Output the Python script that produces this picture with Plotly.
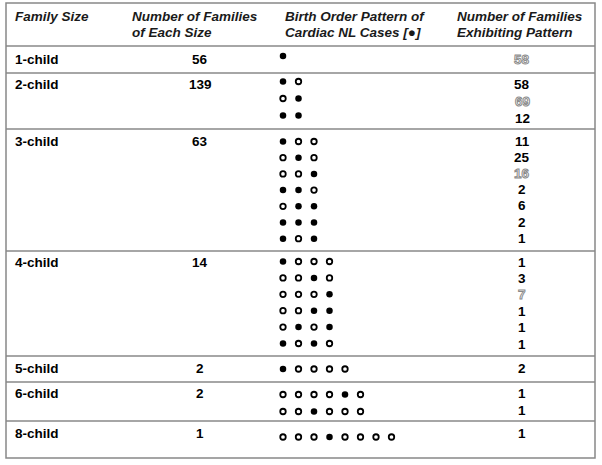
import plotly.graph_objects as go

# ---------------- data ----------------
family_sizes = ["1-child", "2-child", "3-child", "4-child", "5-child", "6-child", "8-child"]
families_per_size = [56, 139, 63, 14, 2, 2, 1]
# birth order patterns: 1 = cardiac NL case (filled), 0 = unaffected (open)
patterns = [
    ["1"],
    ["10", "01", "11"],
    ["100", "010", "001", "110", "011", "111", "101"],
    ["1000", "0010", "0001", "0011", "0101", "1010"],
    ["10000"],
    ["000010", "001000"],
    ["00010000"],
]
pattern_counts = [
    [58],
    [58, 69, 12],
    [11, 25, 16, 2, 6, 2, 1],
    [1, 3, 7, 1, 1, 1],
    [2],
    [1, 1],
    [1],
]
# last-born-only pattern (shown as outlined grey numbers)
last_born_only = [
    [True],
    [False, True, False],
    [False, False, True, False, False, False, False],
    [False, False, True, False, False, False],
    [False],
    [False, False],
    [False],
]
headers = [
    ["Family Size"],
    ["Number of Families", "of Each Size"],
    ["Birth Order Pattern of", "Cardiac NL Cases [\u25cf]"],
    ["Number of Families", "Exhibiting Pattern"],
]

# ---------------- layout (pixel positions) ----------------
W, H = 602, 465
FONT = "Liberation Sans, Arial, sans-serif"
FS = 13.5
row_lines = [46, 73, 129, 251, 356, 382, 421]
left, right, top, bottom = 6, 595, 3, 458
row_first_y = [59, 84, 141, 262, 368, 393, 433]
line_pitch = [16, 17, 16.2, 16.4, 16, 17, 16]
dot_offset = [-3, -2.5, 0.5, -0.5, 1, 1.5, 4]
header_x = [13, 130, 283, 455]
header_y = [16, 32.5]
col2_x = 200
col4_x = 522
dot_x0, dot_dx = 283, 15.5

fig = go.Figure()

# dots
fx, fy, ox, oy = [], [], [], []
for r, plist in enumerate(patterns):
    for i, p in enumerate(plist):
        y = row_first_y[r] + i * line_pitch[r] + dot_offset[r]
        for k, ch in enumerate(p):
            x = dot_x0 + k * dot_dx
            if ch == "1":
                fx.append(x); fy.append(y)
            else:
                ox.append(x); oy.append(y)

fig.add_trace(go.Scatter(x=fx, y=fy, mode="markers", hoverinfo="skip",
                         marker=dict(symbol="circle", size=6.5, color="black")))
fig.add_trace(go.Scatter(x=ox, y=oy, mode="markers", hoverinfo="skip",
                         marker=dict(symbol="circle-open", size=5.5, color="black",
                                     line=dict(width=1.8, color="black"))))

ann = []
# headers
for c, lines in enumerate(headers):
    for j, t in enumerate(lines):
        ann.append(dict(x=header_x[c], y=header_y[j], text="<b><i>%s</i></b>" % t,
                        xanchor="left", yanchor="middle", showarrow=False,
                        font=dict(family=FONT, size=FS, color="#1a1a1a")))

# rows
for r, name in enumerate(family_sizes):
    y0 = row_first_y[r]
    ann.append(dict(x=13, y=y0, text="<b>%s</b>" % name, xanchor="left", yanchor="middle",
                    showarrow=False, font=dict(family=FONT, size=FS, color="black")))
    ann.append(dict(x=col2_x, y=y0, text="<b>%d</b>" % families_per_size[r], xanchor="center",
                    yanchor="middle", showarrow=False, font=dict(family=FONT, size=FS, color="black")))
    for i, v in enumerate(pattern_counts[r]):
        y = y0 + i * line_pitch[r]
        if last_born_only[r][i]:
            txt = "<b><span style='fill:white;stroke:#8a8a8a;stroke-width:1px'>%d</span></b>" % v
            col = "#8a8a8a"
        else:
            txt = "<b>%d</b>" % v
            col = "black"
        ann.append(dict(x=col4_x, y=y, text=txt, xanchor="center", yanchor="middle",
                        showarrow=False, font=dict(family=FONT, size=FS, color=col)))

shapes = []
for yl in row_lines:
    shapes.append(dict(type="line", x0=left, x1=right, y0=yl, y1=yl,
                       line=dict(color="#888888", width=1.5)))
shapes.append(dict(type="rect", x0=left, x1=right, y0=top, y1=bottom,
                   line=dict(color="#888888", width=1.5)))

fig.update_layout(
    width=W, height=H, margin=dict(l=0, r=0, t=0, b=0),
    paper_bgcolor="white", plot_bgcolor="white", showlegend=False,
    xaxis=dict(range=[0, W], visible=False, fixedrange=True),
    yaxis=dict(range=[H, 0], visible=False, fixedrange=True),
    annotations=ann, shapes=shapes,
)
fig.write_html("out.html", config={"displayModeBar": False},
               post_script="document.body.style.margin='0';document.body.style.overflow='hidden';")
